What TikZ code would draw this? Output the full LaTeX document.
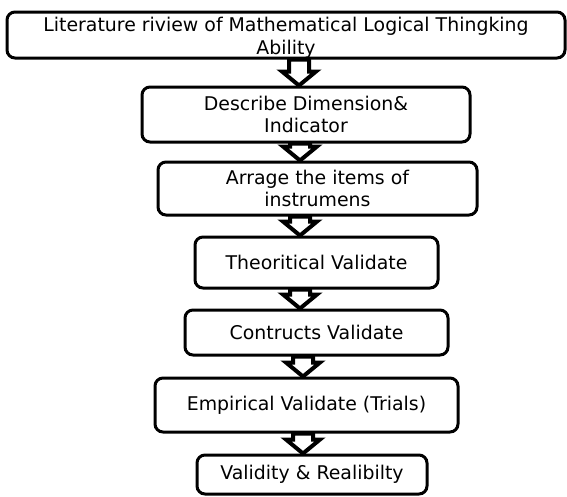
\documentclass[tikz,border=0pt]{standalone}
\usepackage{fontspec}
\setmainfont{DejaVu Sans}
\usetikzlibrary{calc}

% hollow block arrow from one box down to the next, at a given x
\newcommand{\blockarr}[3]{%
  \draw[blk] let \p1=(#1.south), \p2=(#2.north) in
    (#3-10,\y1) -- (#3-10,\y2+14) -- (#3-17,\y2+14) -- (#3,\y2)
    -- (#3+17,\y2+14) -- (#3+10,\y2+14) -- (#3+10,\y1) -- cycle;}

\begin{document}
\begin{tikzpicture}[x=1pt, y=-1pt]
        \tikzstyle{stepbox}=[draw, line width=3pt, rounded corners=8pt, align=center,
                             inner sep=1pt, font=\fontsize{18.9}{22}\selectfont]
        \tikzstyle{blk}=[draw, fill=white, line width=4pt]

        \useasboundingbox (0,0) rectangle (567,496);

        \node[stepbox, minimum width=558pt, minimum height=46pt,
              font=\fontsize{18.9}{23}\selectfont,
              text height=41pt, text depth=2pt](lit) at (286,35)
             {Literature riview of Mathematical Logical Thingking\\Ability};
        \node[stepbox, minimum width=328pt, minimum height=55pt](desc) at (306,114.5)
             {Describe Dimension\&\\Indicator};
        \node[stepbox, minimum width=319pt, minimum height=53pt](items) at (317.5,188.5)
             {Arrage the items of\\instrumens};
        \node[stepbox, minimum width=243pt, minimum height=51pt](theo) at (316.5,262.5)
             {Theoritical Validate};
        \node[stepbox, minimum width=263pt, minimum height=45pt](cons) at (316.5,332.5)
             {Contructs Validate};
        \node[stepbox, minimum width=303pt, minimum height=54pt](emp) at (306.5,405)
             {Empirical Validate (Trials)};
        \node[stepbox, minimum width=230pt, minimum height=39pt](valid) at (312,474.5)
             {Validity \& Realibilty};

        \blockarr{lit}{desc}{299}
        \blockarr{desc}{items}{300}
        \blockarr{items}{theo}{300}
        \blockarr{theo}{cons}{300}
        \blockarr{cons}{emp}{303}
        \blockarr{emp}{valid}{303}

\end{tikzpicture}
\end{document}
